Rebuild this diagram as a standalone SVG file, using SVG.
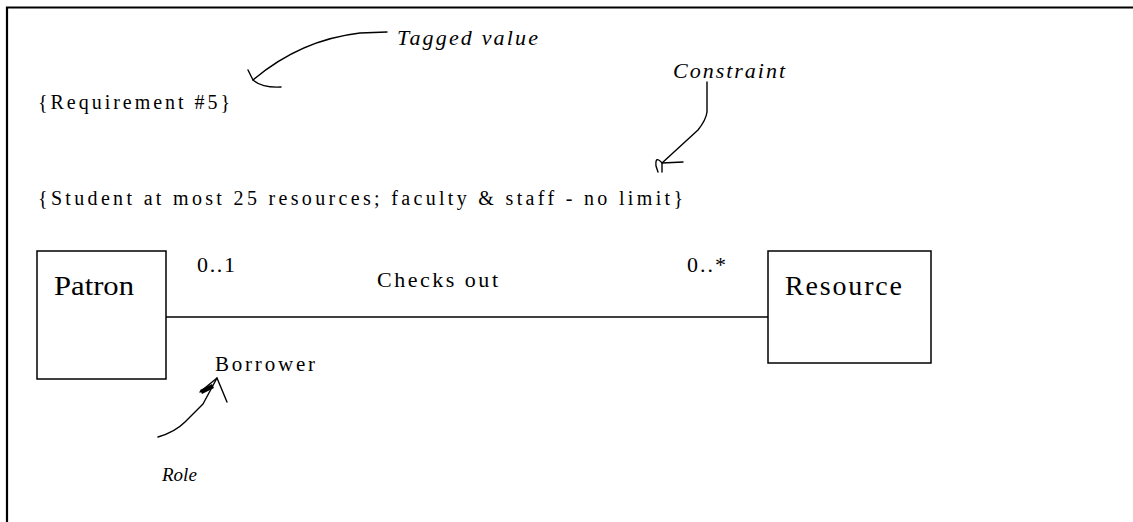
<svg xmlns="http://www.w3.org/2000/svg" width="1133" height="522" viewBox="0 0 1133 522">
<style>
.t{font-family:"Liberation Serif","Times New Roman",serif;fill:#000}
.i{font-family:"Liberation Serif","Times New Roman",serif;font-style:italic;fill:#000}
.box{fill:#fff;stroke:#000;stroke-width:1.5}
.ln{fill:none;stroke:#000;stroke-width:1.5}
.hand{fill:none;stroke:#000;stroke-width:1.4;stroke-linecap:round;stroke-linejoin:round}
</style>
<rect width="1133" height="522" fill="#fff"/>
<path d="M7,522 V7.5 H1133" fill="none" stroke="#000" stroke-width="2.2"/>

<g id="annotations">
<text class="t" x="38" y="109" font-size="20" textLength="192" lengthAdjust="spacing">{Requirement #5}</text>
<text class="t" x="38" y="205" font-size="20" textLength="645" lengthAdjust="spacing">{Student at most 25 resources; faculty &amp; staff - no limit}</text>
<text class="i" x="397" y="45" font-size="22" textLength="141" lengthAdjust="spacing">Tagged value</text>
<text class="i" x="673" y="78" font-size="22" textLength="112" lengthAdjust="spacing">Constraint</text>
<text class="i" x="162" y="481" font-size="19">Role</text>
</g>

<g id="patron">
<rect class="box" x="37" y="251" width="129" height="128"/>
<text class="t" x="54" y="295" font-size="28" textLength="80" lengthAdjust="spacingAndGlyphs">Patron</text>
</g>

<g id="resource">
<rect class="box" x="768" y="251" width="163" height="112"/>
<text class="t" x="785" y="295" font-size="28" textLength="117" lengthAdjust="spacing">Resource</text>
</g>

<g id="connectors">
<line class="ln" x1="166" y1="317" x2="768" y2="317"/>
<text class="t" x="197" y="272" font-size="22" textLength="38" lengthAdjust="spacing">0..1</text>
<text class="t" x="687" y="272" font-size="22" textLength="39" lengthAdjust="spacing">0..*</text>
<text class="t" x="377" y="287" font-size="22" textLength="121" lengthAdjust="spacing">Checks out</text>
<text class="t" x="215" y="371" font-size="21" textLength="100" lengthAdjust="spacing">Borrower</text>
<path class="hand" d="M387,32 L360,33 Q300,40 253,80"/>
<path class="hand" d="M248,70 L253,80 Q262,88 281,87"/>
<path class="hand" d="M707,82 L707,112 Q706,120 698,130 L662,163"/>
<path class="hand" d="M662,163 L683,162 M662,163 Q655,155 656,166 L658,172 M662,163 L662,172"/>
<path class="hand" d="M158,437 Q175,432 185,422 L203,404 L217,378"/>
<path class="hand" d="M200,392 L217,378 M217,378 L222,390 L227,402"/>
<path d="M200,390 L212,384 L214,388 L202,394 Z" fill="#000"/>
</g>
</svg>
